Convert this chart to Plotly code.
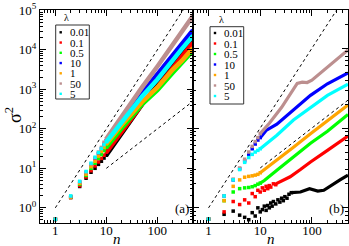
import plotly.graph_objects as go
from plotly.subplots import make_subplots

# ---------------- data ----------------
lambdas = ["0.01", "0.1", "0.5", "10", "1", "50", "5"]
colors = ["#000000", "#ff0000", "#00ff00", "#0000ff", "#ffa500", "#bc8f8f", "#00ffff"]

# panel (a): discrete markers at small n
a_n_pts = [1, 2, 3, 4, 5, 6, 7, 8, 9, 10]
a_pts = {
    "0.01": [0.51, 1.82, 3.47, 5.62, 7.94, 10.0, 12.6, 15.1, 18.2, 21.4],
    "0.1":  [0.51, 1.82, 3.63, 6.03, 8.71, 11.5, 14.5, 17.8, 21.4, 25.7],
    "0.5":  [0.51, 1.86, 3.98, 6.61, 10.0, 13.5, 17.8, 22.4, 28.2, 33.9],
    "10":   [0.51, 1.91, 4.47, 7.76, 12.3, 17.4, 23.4, 30.9, 40.7, 50.1],
    "1":    [0.51, 1.86, 4.17, 7.08, 11.0, 15.1, 20.4, 26.9, 33.9, 41.7],
    "50":   [0.51, 1.95, 4.57, 8.13, 12.9, 18.6, 25.7, 33.9, 45.7, 56.2],
    "5":    [0.51, 2.00, 4.68, 8.32, 13.5, 19.1, 25.1, 31.6, 39.8, 46.8],
}
# panel (a): dense part at large n
a_n_line = [10, 20, 50, 100, 200, 300, 500]
a_line = {
    "0.01": [21.4, 79.4, 417, 1259, 4467, 8913, 19950],
    "0.1":  [25.7, 89.1, 417, 1122, 3548, 6607, 15140],
    "0.5":  [33.9, 105, 417, 955, 2630, 4467, 9550],
    "10":   [50.1, 174, 794, 2399, 7586, 14130, 31620],
    "1":    [41.7, 126, 479, 1122, 3162, 5248, 11220],
    "50":   [56.2, 214, 1122, 3802, 13490, 28180, 72440],
    "5":    [46.8, 151, 661, 1778, 5623, 10470, 22910],
}
a_guide_hi_n = [1, 500]
a_guide_hi_v = [1, 250000]
a_guide_lo_n = [10, 500]
a_guide_lo_v = [10, 500]

# panel (b): discrete markers
b_n_pts = {
    "0.01": [1, 2, 3, 4, 5, 6, 7, 8, 9, 10, 11, 12, 13, 14, 15, 16, 17, 18, 20, 22, 24, 26, 28, 30, 33, 36, 40],
    "0.1":  [1, 2, 3, 4, 5, 6, 7, 8, 9, 10, 11, 12, 13, 14, 15, 16, 18, 20],
    "0.5":  [1, 2, 3, 4, 5, 6, 7, 8, 9, 10],
    "10":   [1, 2, 3, 4, 5, 6, 7, 8, 9, 10],
    "1":    [1, 2, 3, 4, 5, 6, 7, 8, 9, 10],
    "50":   [1, 2, 3, 4, 5, 6, 7, 8, 9, 10],
    "5":    [1, 2, 3, 4, 5, 6, 7, 8, 9, 10],
}
b_pts = {
    "0.01": [0.72, 0.83, 0.91, 0.81, 0.76, 0.71, 0.87, 0.79, 1.0, 0.89, 0.95, 1.05, 0.93, 1.07,
             1.0, 1.15, 1.05, 1.2, 1.12, 1.26, 1.18, 1.32, 1.23, 1.38, 1.32, 1.48, 1.55],
    "0.1":  [0.72, 0.89, 1.2, 1.1, 1.26, 1.15, 1.51, 1.38, 1.66, 1.58, 1.78, 1.66, 1.86, 1.74,
             1.9, 1.82, 2.0, 1.95],
    "0.5":  [0.72, 1.23, 1.58, 1.74, 1.78, 1.8, 1.84, 1.9, 1.98, 2.04],
    "10":   [0.72, 1.41, 2.24, 3.09, 3.89, 4.68, 5.5, 6.31, 7.08, 7.59],
    "1":    [0.72, 1.23, 1.86, 2.24, 2.42, 2.48, 2.52, 2.57, 2.63, 2.75],
    "50":   [0.72, 1.41, 2.29, 3.16, 4.07, 5.01, 5.89, 6.76, 7.59, 8.51],
    "5":    [0.72, 1.41, 2.24, 3.02, 3.72, 4.27, 4.68, 5.01, 5.25, 5.5],
}
b_n_line = {
    "0.01": [40, 60, 90, 130, 170, 230, 350, 500],
    "0.1":  [20, 38, 60, 94, 200, 500],
    "0.5":  [10, 12, 21, 44, 94, 200, 500],
    "10":   [10, 13, 21, 44, 94, 200, 500],
    "1":    [10, 14, 24, 44, 94, 200, 500],
    "50":   [10, 15, 26, 44, 52, 65, 81, 100, 200, 300, 500],
    "5":    [10, 21, 44, 94, 200, 500],
}
b_line = {
    "0.01": [1.55, 1.58, 1.74, 1.62, 1.66, 1.9, 2.24, 2.57],
    "0.1":  [2.0, 2.45, 3.02, 3.76, 5.25, 7.94],
    "0.5":  [2.04, 2.2, 2.95, 4.37, 6.46, 9.12, 14.8],
    "10":   [7.59, 9.33, 11.2, 17.0, 25.7, 35.9, 49.0],
    "1":    [2.75, 3.24, 4.27, 5.75, 8.51, 12.3, 19.5],
    "50":   [8.51, 11.5, 18.2, 31.6, 36.3, 37.6, 37.2, 39.8, 57.5, 72.4, 95.5],
    "5":    [5.5, 8.13, 12.6, 18.2, 25.7, 35.5],
}
b_guide_hi_n = [1, 500]
b_guide_hi_v = [1, 500]
b_guide_lo_n = [10, 500]
b_guide_lo_v = [3.16, 22.4]

x_tickvals = [1, 10, 100]
x_ticktext = ["1", "10", "100"]
ya_tickvals = [1, 10, 100, 1000, 10000, 100000]
ya_ticktext = ["10<sup>0</sup>", "10<sup>1</sup>", "10<sup>2</sup>",
               "10<sup>3</sup>", "10<sup>4</sup>", "10<sup>5</sup>"]

# ---------------- figure ----------------
W, H = 349, 246
ML, MR, MT, MB = 40, 1, 10, 23
PW, PH = W - ML - MR, H - MT - MB
split = (193 - ML) / PW

def px(x):
    return (x - ML) / PW

def py(y):
    return (H - MB - y) / PH

fig = make_subplots(rows=1, cols=2, horizontal_spacing=0)
FONT = "Liberation Serif"

for col, (pts_n, pts, ln_n, ln, lw) in enumerate([
        (None, a_pts, None, a_line, 4.5),
        (b_n_pts, b_pts, b_n_line, b_line, 3.2)], start=1):
    for lam, c in zip(lambdas, colors):
        nn = a_n_pts if pts_n is None else pts_n[lam]
        nl = a_n_line if ln_n is None else ln_n[lam]
        fig.add_trace(go.Scatter(x=nl, y=ln[lam], mode="lines",
                                 line=dict(color=c, width=lw), showlegend=False,
                                 hoverinfo="skip"), row=1, col=col)
        fig.add_trace(go.Scatter(x=nn, y=pts[lam], mode="markers",
                                 marker=dict(color=c, size=3.5, symbol="square"),
                                 showlegend=False), row=1, col=col)

dash = dict(color="black", width=1, dash="3px,3px")
for col, gs in [(1, [(a_guide_hi_n, a_guide_hi_v), (a_guide_lo_n, a_guide_lo_v)]),
                (2, [(b_guide_hi_n, b_guide_hi_v), (b_guide_lo_n, b_guide_lo_v)])]:
    for gn, gv in gs:
        fig.add_trace(go.Scatter(x=gn, y=gv, mode="lines", line=dash,
                                 showlegend=False, hoverinfo="skip"), row=1, col=col)

axis_common = dict(
    type="log", showline=True, linecolor="black", linewidth=1, mirror="allticks",
    ticks="inside", ticklen=6, tickcolor="black", showgrid=False, zeroline=False,
    minor=dict(ticks="inside", ticklen=3, dtick="D1", tickcolor="black", showgrid=False),
    tickfont=dict(family=FONT, size=13, color="black"),
)
xr = [-0.30103, 2.69897]
fig.update_xaxes(**axis_common, range=xr, tickmode="array", tickvals=x_tickvals,
                 ticktext=x_ticktext, ticklabelstandoff=-5)
fig.update_xaxes(domain=[0, split], row=1, col=1)
fig.update_xaxes(domain=[split, 1], row=1, col=2)
fig.update_yaxes(**axis_common)
fig.update_yaxes(range=[-0.385, 5.01], tickmode="array", tickvals=ya_tickvals,
                 ticktext=ya_ticktext, row=1, col=1)
fig.update_yaxes(range=[-0.19, 2.48], dtick=1, showticklabels=False, row=1, col=2)

annotations = []
shapes = []

def txt(x, y, s, size, xanchor="center", angle=0):
    annotations.append(dict(x=px(x), y=py(y), xref="paper", yref="paper", text=s,
                            showarrow=False, xanchor=xanchor, yanchor="middle",
                            textangle=angle,
                            font=dict(family=FONT, size=size, color="black")))

txt(13, 115, "σ<sup>2</sup>", 18, angle=-90)
txt(116.5, 238.5, "<i>n</i>", 15)
txt(271, 238.5, "<i>n</i>", 15)
txt(182, 208, "(a)", 13)
txt(336, 208, "(b)", 13)

for (bx0, by0, bx1, by1, ey0, step) in [(55.7, 25, 89.3, 99, 32.3, 10.25),
                                        (210, 26.7, 243.7, 104, 33, 10.5)]:
    shapes.append(dict(type="rect", xref="paper", yref="paper",
                       x0=px(bx0), x1=px(bx1), y0=py(by0), y1=py(by1),
                       line=dict(color="#333333", width=1), fillcolor="white", layer="above"))
    txt(bx0 + 11, by0 - 7.5, "λ", 10)
    for i, (lam, c) in enumerate(zip(lambdas, colors)):
        yy = ey0 + i * step
        shapes.append(dict(type="rect", xref="paper", yref="paper",
                           x0=px(bx0 + 3.8), x1=px(bx0 + 6.2), y0=py(yy - 1.2), y1=py(yy + 1.2),
                           line=dict(width=0), fillcolor=c, layer="above"))
        txt(bx0 + 12.3, yy, lam, 11, xanchor="left")

fig.update_layout(
    width=W, height=H, margin=dict(l=ML, r=MR, t=MT, b=MB),
    paper_bgcolor="white", plot_bgcolor="white", showlegend=False,
    annotations=annotations, shapes=shapes,
    font=dict(family=FONT, color="black"),
)
fig.write_html("out.html", config={"displayModeBar": False},
               post_script="document.body.style.margin='0';document.body.style.overflow='hidden';")
